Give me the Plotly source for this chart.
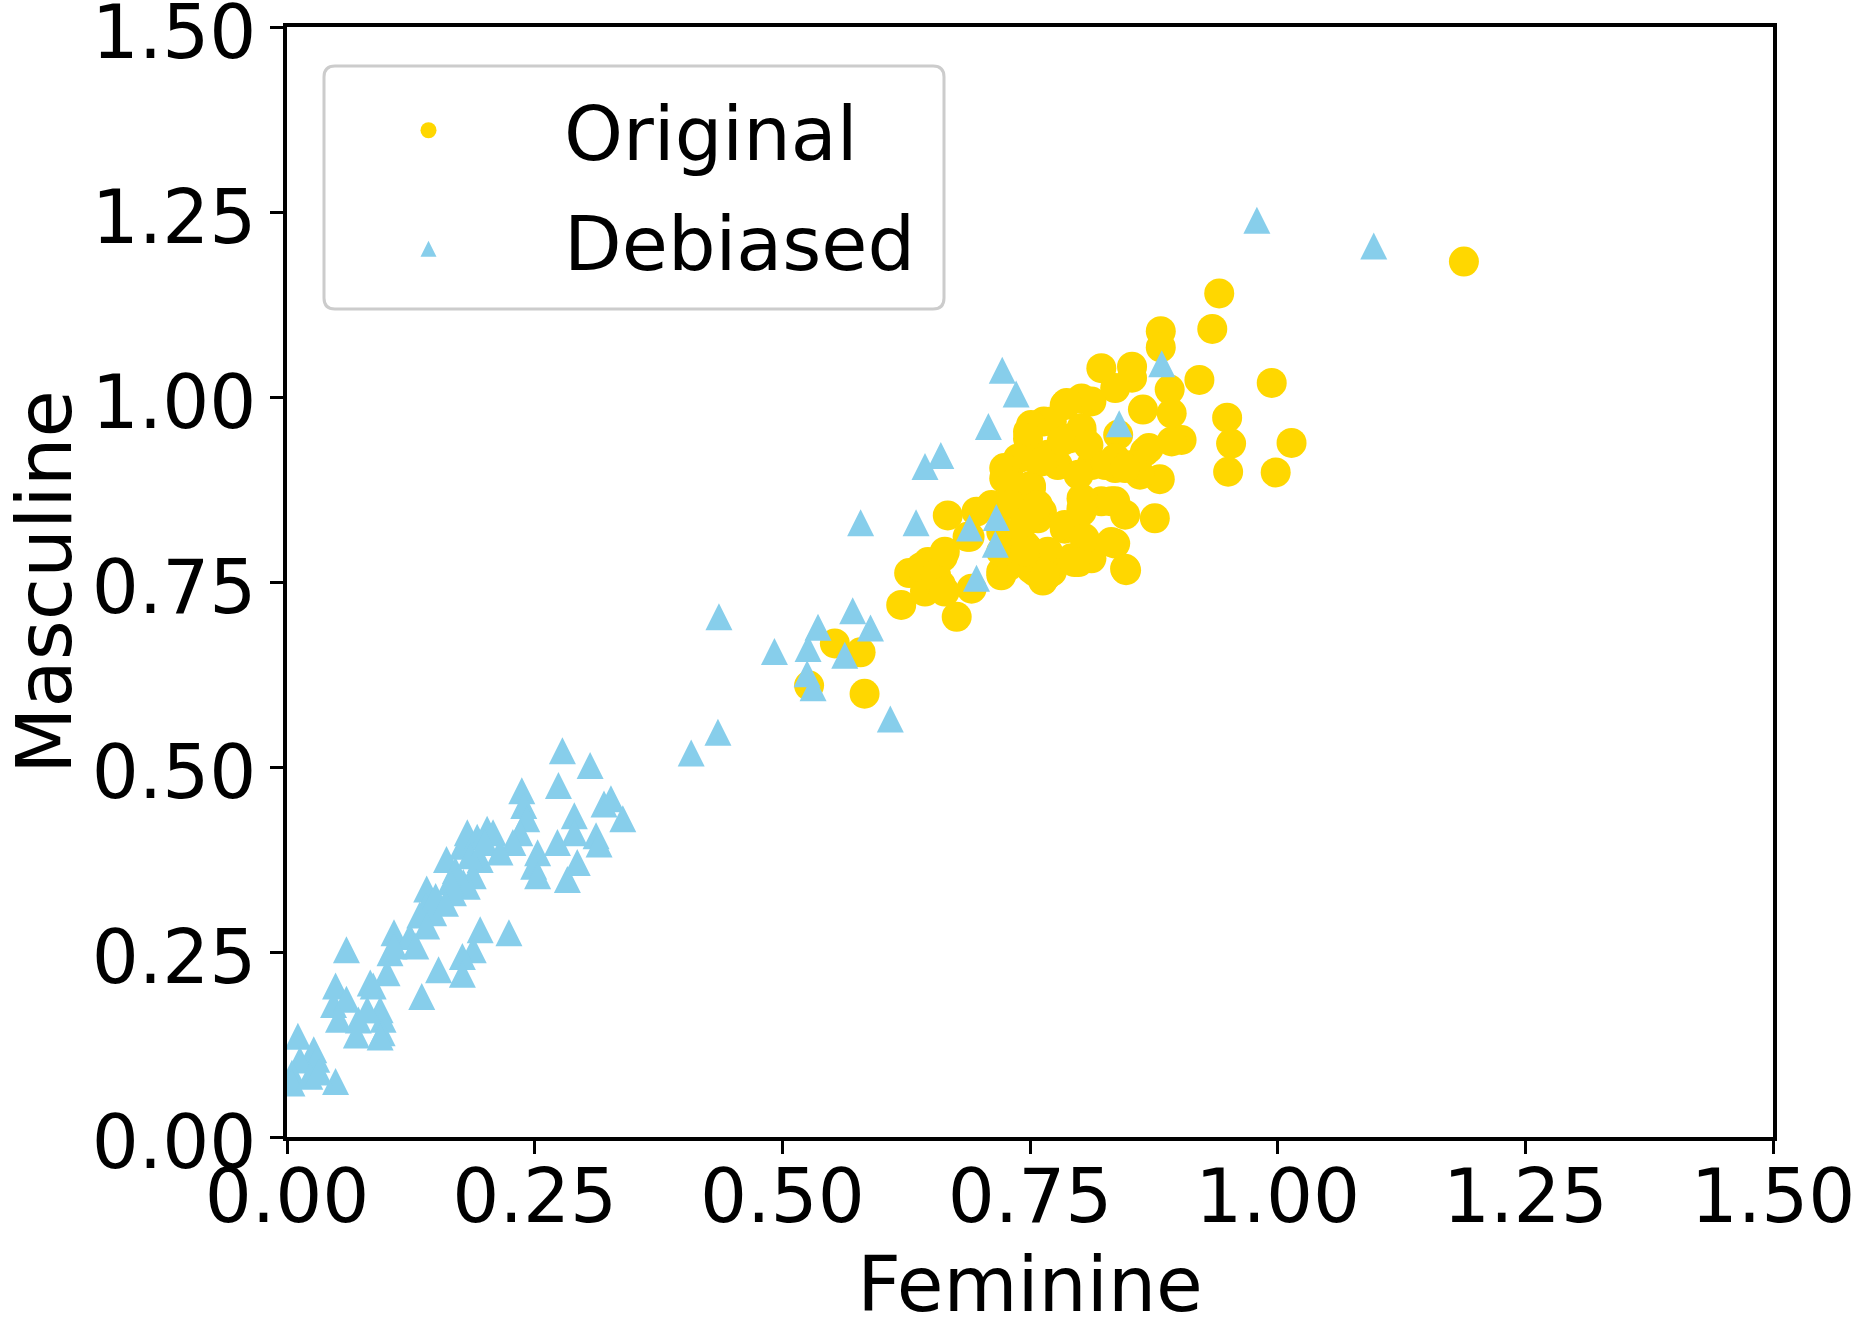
import plotly.graph_objects as go

# Original (gold circles)
orig_x = [1.188, 0.941, 0.934, 0.882, 0.882, 0.994, 0.921, 0.891, 0.949, 0.953,
          1.014, 0.950, 0.998, 0.903, 0.893, 0.893, 0.870, 0.881, 0.876, 0.847,
          0.822, 0.853, 0.853, 0.836, 0.864, 0.812, 0.802, 0.785, 0.764, 0.772,
          0.748, 0.751, 0.748, 0.790, 0.802, 0.802, 0.839, 0.866, 0.861, 0.853,
          0.836, 0.836, 0.812, 0.778, 0.768, 0.755, 0.738, 0.728, 0.724, 0.724,
          0.751, 0.739, 0.711, 0.714, 0.696, 0.667, 0.762, 0.758, 0.802, 0.802,
          0.822, 0.836, 0.846, 0.785, 0.721, 0.689, 0.748, 0.721, 0.721, 0.767,
          0.755, 0.772, 0.748, 0.799, 0.812, 0.836, 0.628, 0.647, 0.662, 0.620,
          0.644, 0.660, 0.676, 0.691, 0.640, 0.655, 0.763, 0.553, 0.579,
          0.527, 0.583,
          0.787, 0.802, 0.782, 0.809, 0.762, 0.826, 0.846, 0.731, 0.751, 0.799,
          0.731, 0.758, 0.832, 0.785, 0.745, 0.805, 0.832, 0.745, 0.768, 0.792,
          0.846, 0.751, 0.728, 0.687, 0.721, 0.745, 0.765, 0.795, 0.664, 0.664,
          0.802]
orig_y = [1.183, 1.140, 1.092, 1.089, 1.067, 1.019, 1.023, 1.010, 0.972, 0.937,
          0.938, 0.899, 0.898, 0.942, 0.940, 0.978, 0.931, 0.889, 0.836, 0.766,
          1.039, 1.041, 1.026, 1.012, 0.983, 0.994, 0.998, 0.989, 0.967, 0.967,
          0.953, 0.962, 0.944, 0.944, 0.944, 0.953, 0.949, 0.926, 0.895, 0.908,
          0.917, 0.904, 0.908, 0.908, 0.922, 0.917, 0.917, 0.900, 0.904, 0.890,
          0.880, 0.863, 0.854, 0.852, 0.845, 0.840, 0.845, 0.836, 0.863, 0.845,
          0.859, 0.859, 0.841, 0.822, 0.818, 0.811, 0.791, 0.764, 0.759, 0.759,
          0.764, 0.764, 0.795, 0.777, 0.782, 0.802, 0.762, 0.777, 0.784, 0.719,
          0.737, 0.746, 0.703, 0.741, 0.770, 0.760, 0.752, 0.667, 0.655,
          0.610, 0.599,
          0.992, 0.958, 0.940, 0.935, 0.913, 0.908, 0.904, 0.881, 0.877, 0.895,
          0.854, 0.854, 0.859, 0.827, 0.832, 0.809, 0.804, 0.800, 0.791, 0.782,
          0.768, 0.768, 0.771, 0.811, 0.791, 0.791, 0.759, 0.777, 0.791, 0.737,
          0.850]

# Debiased (sky blue triangles)
deb_x = [0.979, 1.097, 0.883, 0.840, 0.722, 0.736, 0.708, 0.660, 0.644, 0.635,
         0.579, 0.716, 0.689, 0.715, 0.696, 0.436, 0.492, 0.536, 0.526, 0.525,
         0.531, 0.563, 0.571, 0.589, 0.609, 0.435, 0.408,
         0.278, 0.306, 0.274, 0.237, 0.239, 0.320, 0.327, 0.339, 0.290, 0.290,
         0.312, 0.315, 0.273, 0.283, 0.293, 0.242, 0.235, 0.228, 0.253, 0.249,
         0.253, 0.224, 0.195, 0.188, 0.177, 0.177, 0.153, 0.136, 0.178, 0.177,
         0.182, 0.192, 0.202, 0.208, 0.195, 0.188, 0.182, 0.168, 0.161, 0.141,
         0.140, 0.148, 0.134, 0.141, 0.108, 0.124, 0.104, 0.108, 0.130, 0.101,
         0.084, 0.087, 0.094, 0.097, 0.096, 0.094, 0.070, 0.072, 0.081, 0.047,
         0.049, 0.060, 0.052, 0.060, 0.011, 0.027, 0.030, 0.013, 0.005, 0.005,
         0.023, 0.049, 0.032, 0.170, 0.185, 0.200, 0.215, 0.165, 0.150, 0.160]
deb_y = [1.239, 1.204, 1.045, 0.964, 1.036, 1.004, 0.960, 0.921, 0.906, 0.830,
         0.830, 0.837, 0.823, 0.801, 0.755, 0.703, 0.656, 0.689, 0.660, 0.626,
         0.607, 0.651, 0.711, 0.688, 0.565, 0.547, 0.519,
         0.522, 0.502, 0.475, 0.468, 0.448, 0.450, 0.457, 0.430, 0.434, 0.411,
         0.407, 0.396, 0.398, 0.348, 0.371, 0.430, 0.411, 0.398, 0.384, 0.366,
         0.353, 0.276, 0.280, 0.253, 0.244, 0.220, 0.226, 0.190, 0.344, 0.393,
         0.411, 0.405, 0.416, 0.411, 0.375, 0.353, 0.339, 0.330, 0.375, 0.335,
         0.312, 0.303, 0.300, 0.285, 0.276, 0.271, 0.249, 0.258, 0.258, 0.222,
         0.208, 0.204, 0.172, 0.159, 0.141, 0.135, 0.138, 0.158, 0.172, 0.179,
         0.204, 0.186, 0.159, 0.253, 0.136, 0.118, 0.105, 0.104, 0.086, 0.073,
         0.082, 0.075, 0.088, 0.360, 0.380, 0.398, 0.385, 0.345, 0.325, 0.316]

tick_vals = [0.0, 0.25, 0.5, 0.75, 1.0, 1.25, 1.5]
tick_text = ["0.00", "0.25", "0.50", "0.75", "1.00", "1.25", "1.50"]

FONT = "DejaVu Sans"
GOLD = "#FFD700"
SKY = "#87CEEB"

FIG_W, FIG_H = 1857, 1329
M_L, M_R, M_T, M_B = 287, 84, 27, 192
PLOT_W = FIG_W - M_L - M_R
PLOT_H = FIG_H - M_T - M_B

# arrow-up has its apex on the point; a second y axis shifted by half a
# marker height centres the triangle on the value (matplotlib '^' look)
TRI_SIZE = 27
shift = (TRI_SIZE / 2) * 1.5 / PLOT_H

fig = go.Figure()
fig.add_trace(go.Scatter(
    x=orig_x, y=orig_y, mode="markers", name="Original",
    marker=dict(symbol="circle", size=30, color=GOLD, line=dict(width=0)),
    legendgroup="a",
))
fig.add_trace(go.Scatter(
    x=deb_x, y=deb_y, mode="markers", name="Debiased", yaxis="y2",
    marker=dict(symbol="arrow-up", size=TRI_SIZE, color=SKY, line=dict(width=0)),
    legendgroup="b",
))

axis_common = dict(
    range=[0, 1.5],
    tickmode="array",
    tickvals=tick_vals,
    ticktext=tick_text,
    ticks="outside",
    ticklen=13,
    tickwidth=3,
    tickcolor="black",
    showline=True,
    linecolor="black",
    linewidth=3.5,
    mirror=True,
    showgrid=False,
    zeroline=False,
    automargin=False,
    ticklabeloverflow="allow",
    tickfont=dict(family=FONT, size=74, color="black"),
)

# rounded legend frame (matplotlib style), in paper coordinates
bx0, bx1 = (324 - M_L) / PLOT_W, (944 - M_L) / PLOT_W
by1, by0 = 1 - (66 - M_T) / PLOT_H, 1 - (309 - M_T) / PLOT_H
rx, ry = 11 / PLOT_W, 11 / PLOT_H
frame = (
    f"M{bx0 + rx},{by1} L{bx1 - rx},{by1} Q{bx1},{by1} {bx1},{by1 - ry} "
    f"L{bx1},{by0 + ry} Q{bx1},{by0} {bx1 - rx},{by0} "
    f"L{bx0 + rx},{by0} Q{bx0},{by0} {bx0},{by0 + ry} "
    f"L{bx0},{by1 - ry} Q{bx0},{by1} {bx0 + rx},{by1} Z"
)

fig.update_layout(
    width=FIG_W,
    height=FIG_H,
    margin=dict(l=M_L, r=M_R, t=M_T, b=M_B),
    paper_bgcolor="white",
    plot_bgcolor="white",
    font=dict(family=FONT, color="black"),
    xaxis=dict(
        **axis_common,
        ticklabelstandoff=-21,
        title=dict(text="Feminine", font=dict(family=FONT, size=76, color="black"), standoff=40),
    ),
    yaxis=dict(
        **axis_common,
        ticklabelstandoff=-1,
        ticklabelshift=5,
        title=dict(text="Masculine", font=dict(family=FONT, size=77, color="black"), standoff=60),
    ),
    yaxis2=dict(
        range=[-shift, 1.5 - shift],
        overlaying="y",
        visible=False,
    ),
    shapes=[dict(
        type="path", xref="paper", yref="paper", path=frame,
        line=dict(color="#cccccc", width=3), fillcolor="rgba(255,255,255,0.8)",
        layer="below",
    )],
    legend=dict(
        x=(293 - M_L) / PLOT_W, y=1 - (75 - M_T) / PLOT_H,
        xanchor="left", yanchor="top",
        bgcolor="rgba(0,0,0,0)",
        borderwidth=0,
        font=dict(family=FONT, size=75, color="black"),
        itemwidth=261,
        tracegroupgap=10,
        traceorder="grouped",
    ),
    showlegend=True,
)

# the page body keeps its default 8px margin; drop it so the figure
# fills the window exactly
fig.write_html(
    "out.html",
    config={"displayModeBar": False},
    post_script="document.body.style.margin='0px';",
)
